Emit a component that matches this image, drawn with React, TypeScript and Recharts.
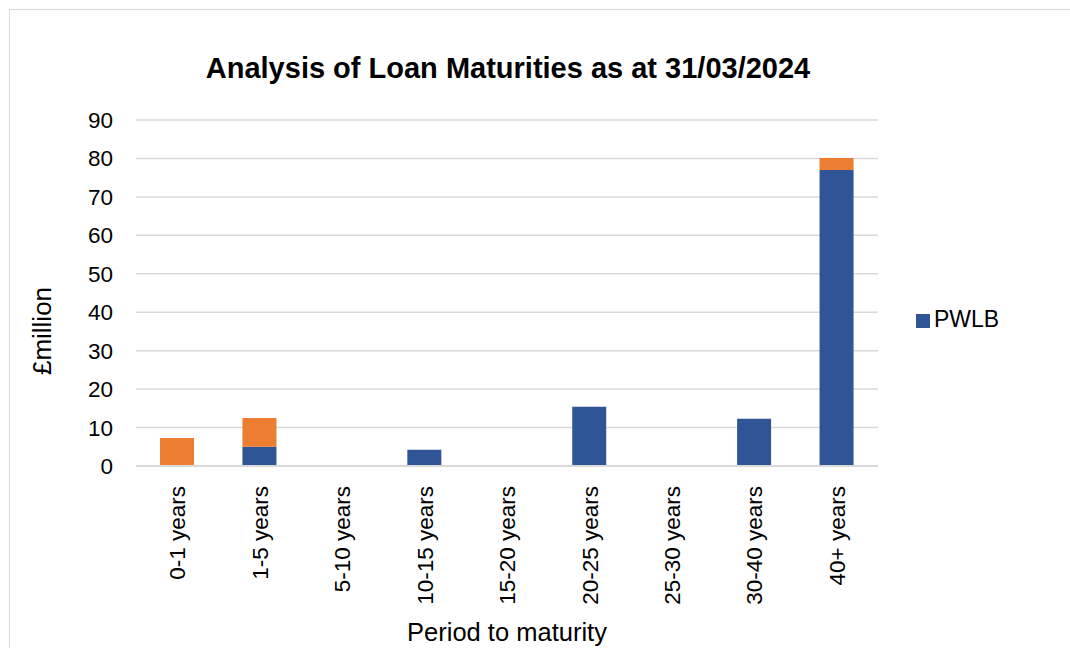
import { Bar, BarChart, CartesianGrid, Legend, XAxis, YAxis } from "recharts";

const periods = [
  "0-1 years",
  "1-5 years",
  "5-10 years",
  "10-15 years",
  "15-20 years",
  "20-25 years",
  "25-30 years",
  "30-40 years",
  "40+ years",
];
const pwlb = [0, 5, 0, 4.2, 0, 15.4, 0, 12.3, 77];
const other = [7.3, 7.5, 0, 0, 0, 0, 0, 0, 3.1];
const yTicks = [0, 10, 20, 30, 40, 50, 60, 70, 80, 90];

const rows = periods.map((p, i) => ({ period: p, pwlb: pwlb[i], other: other[i] }));

const font = "'Liberation Sans', Arial, sans-serif";

function PeriodTick(props: any) {
  const { x, y, payload } = props;
  return (
    <g transform={`translate(${x},${y + 12}) rotate(-90)`}>
      <text textAnchor="end" dy="0.36em" fontSize={22.5} fill="#000" fontFamily={font}>
        {payload.value}
      </text>
    </g>
  );
}

export default function App() {
  return (
    <div style={{ position: "absolute", left: 0, top: 0, width: 1070, height: 648, overflow: "hidden", background: "#fff", fontFamily: font }}>
      <div
        style={{
          position: "absolute",
          left: 9,
          top: 9,
          width: 1100,
          height: 700,
          border: "1.5px solid #d9d9d9",
          boxSizing: "border-box",
        }}
      />
      <div style={{ position: "absolute", left: 0, width: 1016, top: 52, lineHeight: "32px", textAlign: "center", fontSize: 29, fontWeight: "bold", color: "#000" }}>
        Analysis of Loan Maturities as at 31/03/2024
      </div>
      <div
        style={{
          position: "absolute",
          left: 42,
          top: 331,
          transform: "translate(-50%, -50%) rotate(-90deg)",
          fontSize: 26,
          lineHeight: "28px",
          color: "#000",
          whiteSpace: "nowrap",
        }}
      >
        £million
      </div>
      <div style={{ position: "absolute", left: 136, width: 742, top: 618, lineHeight: "28px", textAlign: "center", fontSize: 25.5, color: "#000" }}>
        Period to maturity
      </div>
      <div style={{ position: "absolute", left: 0, top: 0 }}>
        <BarChart width={1070} height={648} data={rows} margin={{ top: 120, right: 72, bottom: 0, left: 0 }}>
          <CartesianGrid horizontal vertical={false} stroke="#d9d9d9" strokeWidth={1.5} />
          <XAxis
            dataKey="period"
            interval={0}
            tick={<PeriodTick />}
            tickLine={false}
            axisLine={{ stroke: "#d9d9d9", strokeWidth: 2 }}
            height={182}
          />
          <YAxis
            width={136}
            domain={[0, 90]}
            ticks={yTicks}
            interval={0}
            tickLine={false}
            axisLine={false}
            tickSize={0}
            tickMargin={23}
            tick={{ fontSize: 22.5, fill: "#000", fontFamily: font }}
          />
          <Legend
            layout="vertical"
            align="right"
            verticalAlign="top"
            iconType="square"
            iconSize={14}
            wrapperStyle={{ left: 916, top: 306, width: 120, fontSize: 23, fontFamily: font }}
            formatter={(v: string) => <span style={{ color: "#000" }}>{v}</span>}
          />
          <Bar dataKey="pwlb" name="PWLB" stackId="a" fill="#2f5597" barSize={34} isAnimationActive={false} />
          <Bar dataKey="other" name="Other" stackId="a" fill="#ed7d31" barSize={34} legendType="none" isAnimationActive={false} />
        </BarChart>
      </div>
    </div>
  );
}
